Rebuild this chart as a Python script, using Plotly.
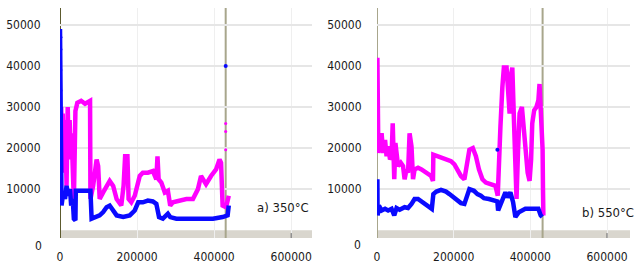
import plotly.graph_objects as go

# ---- Panel a) 350°C ----
a_mag_x = [1, 3, 5, 7, 9.5, 12, 15, 17, 20, 22, 25, 28, 30, 34, 36, 40, 43, 45, 55, 65, 78, 79,
           86, 95, 99, 103, 112, 121, 129, 138, 147, 159, 165, 169, 175, 178, 185, 194, 200, 207,
           215, 228, 241, 250, 253, 256, 263, 272, 280, 286, 293, 310, 328, 345, 358, 366, 372,
           379, 392, 405, 414, 418, 422, 431, 438]
a_mag_y = [18000, 30000, 23600, 28400, 14000, 26800, 19600, 10800, 30000, 22000, 26800, 17200,
           23600, 9200, 7000, 29000, 30500, 31000, 31500, 30800, 31500, 7600,
           10800, 17200, 15600, 7600, 9200, 10800, 12000, 10800, 7600, 6000, 10800, 18000, 18000,
           7600, 6800, 8400, 10800, 13200, 14000, 14000, 14400, 12400, 18000, 12400, 11600, 9200,
           9600, 6000, 6800, 7200, 7600, 7600, 10000, 13200, 12400, 11200, 13200, 14800, 17200,
           16400, 6000, 5600, 8400]
a_mag_dot_x = [430, 430, 430]
a_mag_dot_y = [26000, 24000, 19600]

a_blue_x = [0, 0.5, 1, 1.5, 4, 8.6, 13, 17, 21.5, 26, 29, 33, 36, 40, 41, 60, 79, 82, 95, 103,
            112, 121, 129, 138, 147, 164, 181, 194, 198, 203, 215, 228, 241, 250, 257, 267, 280,
            286, 302, 328, 362, 397, 422, 435, 438]
a_blue_y = [49000, 40000, 33000, 9000, 6000, 9200, 7600, 10800, 8400, 10000, 6000, 7600, 2800,
            2400, 9600, 9600, 9600, 2800, 3200, 3600, 4400, 5600, 6000, 4800, 3600, 3200, 3600,
            4800, 5600, 6800, 6800, 7200, 7000, 6400, 3200, 2800, 4000, 3200, 2800, 2800, 2800,
            2800, 3200, 3600, 6000]
a_blue_dot_x = [1, 1, 1, 1, 430]
a_blue_dot_y = [47000, 44000, 39000, 34000, 40000]

# ---- Panel b) 550°C ----
b_mag_x = [1, 1.5, 3.5, 8, 12, 16, 21, 25, 29, 34, 38, 41, 45, 48, 52, 55, 62, 68, 72, 77, 81,
           85, 90, 94, 98, 107, 116, 128, 141, 146, 147, 159, 172, 184, 193, 202, 210, 219, 228,
           234, 241, 250, 258, 266, 275, 284, 297, 309, 315, 318, 322, 327, 331, 338, 344, 346,
           350, 353, 357, 361, 364, 368, 372, 378, 383, 387, 393, 398, 402, 405, 410, 416, 421,
           424, 427, 430, 432, 433, 434]
b_mag_y = [42000, 20400, 18800, 21200, 23600, 18800, 22000, 18000, 20400, 17200, 18000, 26000,
           12400, 21200, 18800, 15600, 16400, 15600, 12400, 14800, 14000, 23600, 20400, 12400,
           14800, 15200, 14800, 14000, 13200, 12000, 18400, 18000, 17600, 17200, 16800, 16000,
           14800, 13200, 12400, 16400, 19600, 20000, 18000, 14800, 12400, 11600, 11200, 10800,
           8400, 18800, 25200, 34800, 39600, 39600, 33200, 28400, 38000, 39600, 27600, 14000,
           7600, 19600, 28400, 30000, 25200, 18800, 14000, 12000, 17200, 26000, 29200, 30000,
           31600, 35600, 28400, 22000, 19600, 10000, 3600]

b_blue_x = [1, 1.5, 5, 12, 21, 29, 38, 45, 51, 59, 72, 81, 90, 98, 107, 116, 124, 133, 143, 147,
            155, 167, 180, 189, 197, 206, 219, 228, 234, 241, 253, 262, 271, 279, 292, 305, 314,
            316, 321, 327, 335, 341, 348, 355, 361, 370, 378, 387, 400, 413, 421, 427, 431]
b_blue_y = [12400, 3600, 6000, 4800, 5200, 4800, 5200, 3600, 5400, 5000, 5600, 5400, 6400, 7600,
            7600, 7000, 6400, 6000, 5200, 8800, 9400, 9800, 9400, 8800, 8200, 7600, 6600, 6400,
            8400, 10000, 9600, 8800, 8400, 7800, 7600, 7200, 7000, 4800, 6000, 7600, 9200, 8000,
            9200, 6800, 3200, 4400, 4800, 5200, 5200, 5200, 5200, 3600, 3200]
b_blue_dot_x = [314]
b_blue_dot_y = [19600]

x_ticks = [0, 200000, 400000, 600000]
y_ticks = [10000, 20000, 30000, 40000, 50000]
panel_labels = ["a) 350°C", "b) 550°C"]
cursor_x = 430000

MAG = "#ff00ff"
BLUE = "#0a0aff"
FONT = "DejaVu Sans Condensed, DejaVu Sans, sans-serif"
TXT = "#1a1a1a"
LW = 4.5

def k(v):
    return [t * 1000 for t in v]

fig = go.Figure()
fig.add_trace(go.Scatter(x=k(a_mag_x), y=a_mag_y, mode="lines", line=dict(color=MAG, width=LW),
                         xaxis="x", yaxis="y"))
fig.add_trace(go.Scatter(x=k(a_blue_x), y=a_blue_y, mode="lines", line=dict(color=BLUE, width=LW),
                         xaxis="x", yaxis="y"))
fig.add_trace(go.Scatter(x=k(b_mag_x), y=b_mag_y, mode="lines", line=dict(color=MAG, width=LW),
                         xaxis="x2", yaxis="y2"))
fig.add_trace(go.Scatter(x=k(b_blue_x), y=b_blue_y, mode="lines", line=dict(color=BLUE, width=LW),
                         xaxis="x2", yaxis="y2"))
fig.add_trace(go.Scatter(x=k(a_mag_dot_x), y=a_mag_dot_y, mode="markers",
                         marker=dict(color=MAG, size=3), xaxis="x", yaxis="y"))
fig.add_trace(go.Scatter(x=k(a_blue_dot_x), y=a_blue_dot_y, mode="markers",
                         marker=dict(color=BLUE, size=4), xaxis="x", yaxis="y"))
fig.add_trace(go.Scatter(x=k(b_blue_dot_x), y=b_blue_dot_y, mode="markers",
                         marker=dict(color=BLUE, size=4), xaxis="x2", yaxis="y2"))

ydom = [1 - 238 / 270, 1 - 8 / 270]
yr = [-1900, 54100]

common_x = dict(tickvals=x_ticks, ticktext=[str(v) for v in x_ticks], showgrid=True,
                gridcolor="#efefef", gridwidth=1, zeroline=False, showline=False,
                ticks="outside", ticklen=8, tickcolor="rgba(0,0,0,0)", automargin=False,
                tickfont=dict(family=FONT, size=12, color=TXT), fixedrange=True)
common_y = dict(tickvals=y_ticks, ticktext=[str(v) for v in y_ticks], range=yr, domain=ydom,
                showgrid=True, gridcolor="#e6e6e6", gridwidth=2, zeroline=False, showline=False,
                ticks="outside", ticklen=16, tickcolor="rgba(0,0,0,0)", automargin=False,
                tickfont=dict(family=FONT, size=12, color=TXT), fixedrange=True)

fig.update_layout(
    width=638, height=270, margin=dict(l=0, r=0, t=0, b=0, autoexpand=False),
    paper_bgcolor="white", plot_bgcolor="white", showlegend=False,
    xaxis=dict(domain=[60 / 638, 312 / 638], range=[0, 654000], anchor="y", **common_x),
    yaxis=dict(anchor="x", **common_y),
    xaxis2=dict(domain=[377 / 638, 630 / 638], range=[0, 660000], anchor="y2", **common_x),
    yaxis2=dict(anchor="x2", **{**common_y, "ticklen": 12}),
)

shapes = []
for xr, yrf in (("x", "y"), ("x2", "y2")):
    # bottom scroll bar
    shapes.append(dict(type="rect", xref=xr + " domain", yref=yrf, x0=0, x1=1, y0=-1900, y1=0,
                       fillcolor="#d9d6ce", line=dict(width=0), layer="below"))
    shapes.append(dict(type="line", xref=xr, yref=yrf, x0=600000, x1=600000, y0=-1900, y1=-700,
                       line=dict(color="#666", width=1)))
# cursor lines (below the data)
shapes.append(dict(type="line", xref="x", yref="y", x0=0, x1=0, y0=-1900, y1=54100, layer="below",
                   line=dict(color="#5c5a2e", width=2)))
shapes.append(dict(type="line", xref="x", yref="y", x0=cursor_x, x1=cursor_x, y0=-1900, y1=54100,
                   layer="below", line=dict(color="#a8a68c", width=2)))
shapes.append(dict(type="line", xref="x2", yref="y2", x0=0, x1=0, y0=-1900, y1=54100, layer="below",
                   line=dict(color="#a8a68c", width=2)))
shapes.append(dict(type="line", xref="x2", yref="y2", x0=cursor_x + 2000, x1=cursor_x + 2000,
                   y0=-1900, y1=54100, layer="below", line=dict(color="#a8a68c", width=2)))
fig.update_layout(shapes=shapes)

ann = [
    dict(text=panel_labels[0], x=311 / 638, y=1 - 207 / 270, xref="paper", yref="paper",
         xanchor="right", yanchor="middle", showarrow=False, font=dict(family=FONT, size=13, color=TXT)),
    dict(text=panel_labels[1], x=636 / 638, y=1 - 212 / 270, xref="paper", yref="paper",
         xanchor="right", yanchor="middle", showarrow=False, font=dict(family=FONT, size=13, color=TXT)),
    dict(text="0", x=38 / 638, y=1 - 246 / 270, xref="paper", yref="paper",
         xanchor="center", yanchor="middle", showarrow=False, font=dict(family=FONT, size=12, color=TXT)),
    dict(text="0", x=357 / 638, y=1 - 245 / 270, xref="paper", yref="paper",
         xanchor="center", yanchor="middle", showarrow=False, font=dict(family=FONT, size=12, color=TXT)),
]
fig.update_layout(annotations=ann)

fig.write_html("out.html", config={"displayModeBar": False},
               post_script="document.body.style.margin='0';document.body.style.overflow='hidden';")
